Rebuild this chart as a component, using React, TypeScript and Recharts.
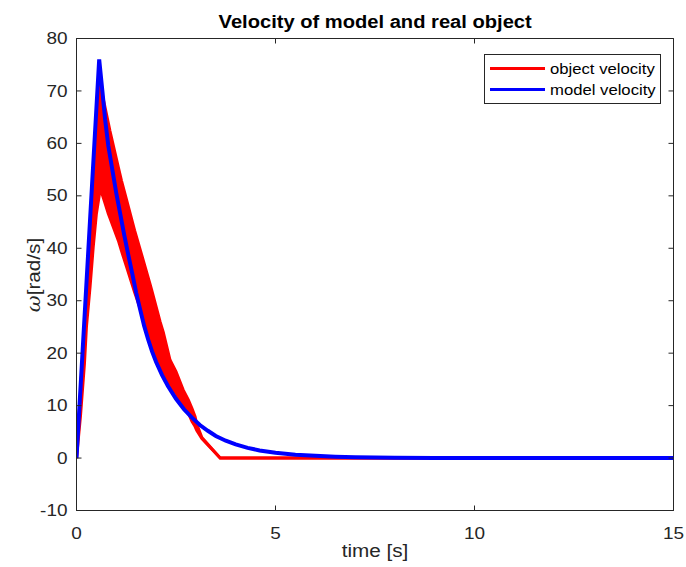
import React from 'react';
import { ComposedChart, Line, Area, XAxis, YAxis, ReferenceArea } from 'recharts';

// ---- data ----
const xTicks = [0, 5, 10, 15];
const yTicks = [-10, 0, 10, 20, 30, 40, 50, 60, 70, 80];

// model velocity (blue)
const modelTime = [0, 0.57, 0.65, 0.72, 0.8, 0.9, 1.0, 1.1, 1.2, 1.3, 1.4, 1.5, 1.6, 1.7, 1.8, 1.9, 2.0, 2.15, 2.3, 2.5, 2.7, 2.9, 3.1, 3.3, 3.5, 3.75, 4.0, 4.3, 4.6, 5.0, 5.5, 6.0, 6.5, 7.0, 8, 9, 10, 15];
const modelVelocity = [0, 76, 70, 64.5, 59.5, 55, 50.5, 46.5, 42.5, 38.8, 35.2, 31.5, 28.3, 25.2, 22.6, 20.3, 18.3, 15.8, 13.7, 11.3, 9.3, 7.7, 6.3, 5.2, 4.2, 3.3, 2.6, 1.95, 1.45, 1.0, 0.65, 0.42, 0.26, 0.16, 0.06, 0.02, 0, 0];

// object velocity (red): the measured signal oscillates rapidly, drawn as its band
const objectTime = [0, 0.1, 0.2, 0.25, 0.34, 0.42, 0.5, 0.57, 0.59, 0.7, 0.8, 0.84, 1.05, 1.13, 1.26, 1.46, 1.64, 1.85, 1.89, 2.1, 2.18, 2.35, 2.5, 2.68, 2.81, 2.9, 2.98, 3.02, 3.15, 3.61, 15];
const objectLow = [0, 8, 18, 25, 32.6, 40.2, 46.6, 50, 51.6, 49, 46.6, 45.8, 41.5, 39.5, 36.4, 31.6, 27.6, 21.5, 20.9, 17.5, 16.4, 14, 12.4, 10, 8.6, 7, 6, 5.3, 3.7, 0, 0];
const objectHigh = [0, 12.6, 25.2, 31.5, 42.9, 53, 63.1, 72, 71.3, 67.5, 63.9, 62.4, 55.5, 52.9, 49.2, 43.4, 38.7, 33.1, 32, 26, 24, 18.7, 16.5, 13, 11.1, 9.5, 7.9, 6.5, 3.9, 0, 0];

const seriesNames = ['object velocity', 'model velocity'];
const seriesColors = ['#ff0000', '#0000ff'];
const titleText = 'Velocity of model and real object';
const xLabel = 'time [s]';

const modelData = modelTime.map((t, i) => ({ t, v: modelVelocity[i] }));
const objectData = objectTime.map((t, i) => ({ t, range: [objectLow[i], objectHigh[i]] }));

// ---- layout (page coordinates, body margin removed) ----
const PAGE_W = 686;
const PAGE_H = 567;
const M = { top: 38.5, right: 12.5, bottom: 55.5, left: 75.5 };
const PLOT_L = 76.5;
const PW = 597;
const PH = 472;
const AX = '#262626';
const FONT = '"Liberation Sans", Arial, Helvetica, sans-serif';
const SX = 1.15;
const TICK_FS = 16.5;

const XTick = (props: any) => {
  const { x, payload } = props;
  const y = M.top + PH;
  return (
    <g>
      <line x1={x} y1={y} x2={x} y2={y - 5} stroke={AX} strokeWidth={1} />
      <line x1={x} y1={M.top} x2={x} y2={M.top + 5} stroke={AX} strokeWidth={1} />
      <text
        transform={`translate(${x},${y + 23}) scale(${SX},1)`}
        textAnchor="middle"
        dominantBaseline="central"
        fill={AX}
        fontSize={TICK_FS}
        fontFamily={FONT}
      >
        {payload.value}
      </text>
    </g>
  );
};

const YTick = (props: any) => {
  const { y, payload } = props;
  const x = PLOT_L;
  return (
    <g>
      <line x1={x} y1={y} x2={x + 5} y2={y} stroke={AX} strokeWidth={1} />
      <line x1={x + PW} y1={y} x2={x + PW - 5} y2={y} stroke={AX} strokeWidth={1} />
      <text
        transform={`translate(${x - 9},${y}) scale(${SX},1)`}
        textAnchor="end"
        dominantBaseline="central"
        fill={AX}
        fontSize={TICK_FS}
        fontFamily={FONT}
      >
        {payload.value}
      </text>
    </g>
  );
};

const LegendBox = () => (
  <div
    style={{
      position: 'absolute',
      left: 484,
      top: 54,
      width: 175,
      height: 48,
      border: `1px solid ${AX}`,
      background: '#fff',
      fontFamily: FONT,
      fontSize: 14.5,
      color: '#000',
    }}
  >
    {seriesNames.map((n, i) => (
      <div key={n} style={{ position: 'absolute', left: 0, top: i === 0 ? 3 : 24, height: 21, display: 'flex', alignItems: 'center' }}>
        <div style={{ width: 55, height: 3, background: seriesColors[i], marginLeft: 5, marginRight: 5 }} />
        <span style={{ display: 'inline-block', transform: `scale(${SX},1)`, transformOrigin: 'left center', whiteSpace: 'nowrap' }}>{n}</span>
      </div>
    ))}
  </div>
);

export default function App() {
  return (
    <div style={{ position: 'relative', width: PAGE_W, height: PAGE_H, background: '#fff', overflow: 'hidden' }}>
      <style>{'html,body{margin:0;padding:0;overflow:hidden}'}</style>
      <ComposedChart width={PAGE_W} height={PAGE_H} margin={M}>
        <XAxis
          dataKey="t"
          type="number"
          domain={[0, 15]}
          ticks={xTicks}
          interval={0}
          allowDataOverflow
          height={1}
          tickSize={0}
          tickMargin={0}
          tickLine={false}
          axisLine={{ stroke: AX }}
          tick={(p: any) => <XTick {...p} />}
        />
        <YAxis
          type="number"
          domain={[-10, 80]}
          ticks={yTicks}
          interval={0}
          allowDataOverflow
          width={1}
          tickSize={0}
          tickMargin={0}
          tickLine={false}
          axisLine={{ stroke: AX }}
          tick={(p: any) => <YTick {...p} />}
        />
        <Area
          data={objectData}
          dataKey="range"
          type="linear"
          fill="#ff0000"
          fillOpacity={1}
          stroke="#ff0000"
          strokeWidth={3}
          isAnimationActive={false}
          dot={false}
          activeDot={false}
          name={seriesNames[0]}
        />
        <Line
          data={modelData}
          dataKey="v"
          type="linear"
          stroke="#0000ff"
          strokeWidth={4}
          strokeLinejoin="miter"
          dot={false}
          activeDot={false}
          isAnimationActive={false}
          name={seriesNames[1]}
        />
        <ReferenceArea x1={0} x2={15} y1={-10} y2={80} fill="none" stroke={AX} strokeWidth={1} ifOverflow="visible" />
      </ComposedChart>
      <LegendBox />
      <div
        style={{
          position: 'absolute',
          left: PLOT_L,
          width: PW,
          top: 12,
          textAlign: 'center',
          fontFamily: FONT,
          fontWeight: 'bold',
          fontSize: 17.5,
          color: '#000',
        }}
      >
        <span style={{ display: 'inline-block', transform: `scale(${SX},1)` }}>{titleText}</span>
      </div>
      <div
        style={{
          position: 'absolute',
          left: PLOT_L,
          width: PW,
          top: 541,
          textAlign: 'center',
          fontFamily: FONT,
          fontSize: 18,
          color: AX,
        }}
      >
        <span style={{ display: 'inline-block', transform: `scale(${SX},1)` }}>{xLabel}</span>
      </div>
      <div style={{ position: 'absolute', left: 34, top: 275, width: 0, height: 0 }}>
        <div
          style={{
            position: 'absolute',
            transform: `translate(-50%, -50%) rotate(-90deg) scale(${SX},1)`,
            whiteSpace: 'nowrap',
            fontFamily: FONT,
            fontSize: 18,
            color: AX,
          }}
        >
          <i style={{ fontFamily: '"DejaVu Serif", serif' }}>ω</i>[rad/s]
        </div>
      </div>
    </div>
  );
}
